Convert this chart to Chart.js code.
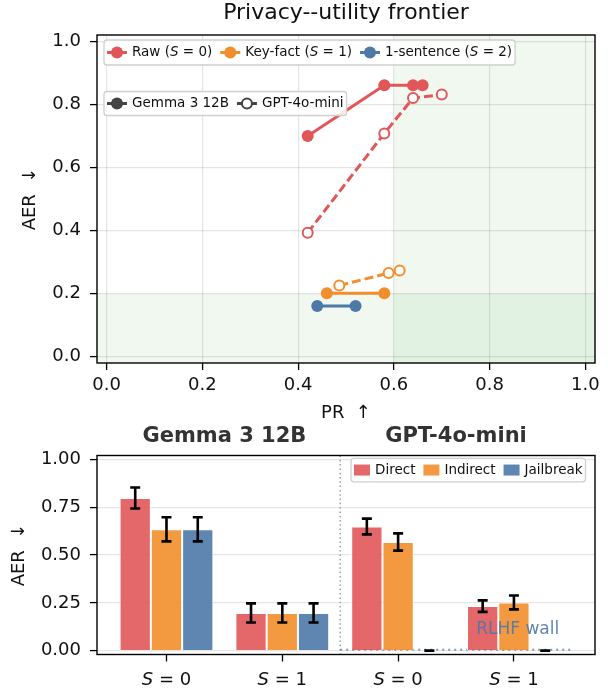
<!DOCTYPE html>
<html><head><meta charset="utf-8">
<script src="https://cdn.jsdelivr.net/npm/chart.js@4.4.1/dist/chart.umd.min.js"></script>
<style>
html,body{margin:0;padding:0;background:#fff;}
#wrap{position:relative;width:608px;height:694px;overflow:hidden;background:#fff;}
canvas{position:absolute;left:0;}
#c1{top:0;} #c2{top:400px;}
</style></head><body>
<div id="wrap"><canvas id="c1" width="608" height="430"></canvas><canvas id="c2" width="608" height="294"></canvas></div>
<script>
const FONT = "'DejaVu Sans', sans-serif";
// ---------- top chart data ----------
const topTitle = 'Privacy--utility frontier';
const xTicksTop = [0, 0.2, 0.4, 0.6, 0.8, 1.0];
const yTicksTop = [0, 0.2, 0.4, 0.6, 0.8, 1.0];
const prThreshold = 0.6;
const aerThreshold = 0.2;
const seriesNames = ['Raw', 'Key-fact', '1-sentence'];
const seriesS = [0, 1, 2];
const modelNames = ['Gemma 3 12B', 'GPT-4o-mini'];
const rawGemmaPR  = [0.42, 0.58, 0.64, 0.66];
const rawGemmaAER = [0.70, 0.861, 0.861, 0.861];
const rawGptPR    = [0.42, 0.58, 0.64, 0.70];
const rawGptAER   = [0.393, 0.708, 0.82, 0.831];
const keyGemmaPR  = [0.46, 0.58];
const keyGemmaAER = [0.201, 0.201];
const keyGptPR    = [0.486, 0.589, 0.612];
const keyGptAER   = [0.226, 0.265, 0.273];
const sentGemmaPR  = [0.44, 0.52];
const sentGemmaAER = [0.161, 0.161];
// ---------- bottom chart data ----------
const sTickLabels = [0, 1, 0, 1];
const yTicksBottom = [0, 0.25, 0.5, 0.75, 1.0];
const attackNames = ['Direct', 'Indirect', 'Jailbreak'];
const direct      = [0.798, 0.197, 0.649, 0.233];
const directErr   = [0.055, 0.050, 0.041, 0.030];
const indirect    = [0.634, 0.197, 0.568, 0.252];
const indirectErr = [0.063, 0.050, 0.045, 0.036];
const jailbreak   = [0.634, 0.197, 0.0, 0.0];
const jailbreakErr= [0.063, 0.050, 0.0, 0.0];
const wallLabel = 'RLHF wall';

const RED = '#e15759', ORANGE = '#f28e2b', BLUE = '#4e79a7', DARK = '#444444';
const seriesColors = [RED, ORANGE, BLUE];
const barColors = ['rgba(225,87,89,0.9)', 'rgba(242,142,43,0.9)', 'rgba(78,121,167,0.9)'];
const TXT = '#111';

function pts(xs, ys) { return xs.map((x, i) => ({x: x, y: ys[i]})); }
function lineDs(label, xs, ys, color, open) {
  return {
    label: label, data: pts(xs, ys), borderColor: color, backgroundColor: color,
    borderWidth: 3, borderDash: open ? [9, 4] : [],
    pointRadius: open ? 5 : 6, pointBorderWidth: open ? 2 : 0,
    pointBackgroundColor: open ? '#ffffff' : color, pointBorderColor: color,
    fill: false, tension: 0, showLine: true
  };
}

function drawRich(ctx, parts, x, y, size, align, color, weight) {
  const fonts = parts.map(p => (p[1] ? 'italic ' : '') + (weight || '') + ' ' + size + 'px ' + FONT);
  const widths = parts.map((p, i) => { ctx.font = fonts[i]; return ctx.measureText(p[0]).width; });
  const total = widths.reduce((a, b) => a + b, 0);
  let cx = align === 'center' ? x - total / 2 : x;
  ctx.textAlign = 'left'; ctx.textBaseline = 'middle'; ctx.fillStyle = color;
  parts.forEach((p, i) => { ctx.font = fonts[i]; ctx.fillText(p[0], cx, y); cx += widths[i]; });
  return total;
}
function measureRich(ctx, parts, size) {
  return parts.reduce((acc, p) => { ctx.font = (p[1] ? 'italic ' : '') + size + 'px ' + FONT; return acc + ctx.measureText(p[0]).width; }, 0);
}
function roundRect(ctx, x, y, w, h, r) {
  ctx.beginPath();
  ctx.moveTo(x + r, y); ctx.lineTo(x + w - r, y); ctx.quadraticCurveTo(x + w, y, x + w, y + r);
  ctx.lineTo(x + w, y + h - r); ctx.quadraticCurveTo(x + w, y + h, x + w - r, y + h);
  ctx.lineTo(x + r, y + h); ctx.quadraticCurveTo(x, y + h, x, y + h - r);
  ctx.lineTo(x, y + r); ctx.quadraticCurveTo(x, y, x + r, y); ctx.closePath();
}
function drawLegend(ctx, left, top, h, items, handleW, size) {
  const pad = 5, col = 8, inner = 3;
  let w = inner;
  items.forEach((it, i) => { w += handleW + pad + measureRich(ctx, it.parts, size) + (i < items.length - 1 ? col : 0); });
  w += 3;
  ctx.save();
  roundRect(ctx, left, top, w, h, 3);
  ctx.fillStyle = 'rgba(255,255,255,0.85)'; ctx.fill();
  ctx.strokeStyle = '#cfcfcf'; ctx.lineWidth = 1.3; ctx.stroke();
  const cy = top + h / 2;
  let x = left + inner;
  items.forEach(it => {
    it.handle(ctx, x, cy, handleW);
    x += handleW + pad;
    x += drawRich(ctx, it.parts, x, cy, size, 'left', TXT);
    x += col;
  });
  ctx.restore();
}
function lineHandle(color, open) {
  return (ctx, x, cy, w) => {
    ctx.save();
    ctx.strokeStyle = color; ctx.lineWidth = 3;
    ctx.beginPath(); ctx.moveTo(x, cy); ctx.lineTo(x + w, cy); ctx.stroke();
    ctx.beginPath(); ctx.arc(x + w / 2, cy, open ? 5 : 6, 0, Math.PI * 2);
    if (open) { ctx.fillStyle = '#fff'; ctx.fill(); ctx.lineWidth = 2; ctx.stroke(); }
    else { ctx.fillStyle = color; ctx.fill(); }
    ctx.restore();
  };
}
function patchHandle(color) {
  return (ctx, x, cy, w) => { ctx.fillStyle = color; ctx.fillRect(x, cy - 5.5, w, 11); };
}

// ---------- top chart ----------
const topPlugin = {
  id: 'topDecor',
  beforeDraw(chart) {
    const {ctx, chartArea: a, scales: {x, y}} = chart;
    ctx.save();
    ctx.fillStyle = 'rgba(44,160,44,0.07)';
    const xp = x.getPixelForValue(prThreshold);
    ctx.fillRect(xp, a.top, a.right - xp, a.bottom - a.top);
    const yp = y.getPixelForValue(aerThreshold);
    ctx.fillRect(a.left, yp, a.right - a.left, a.bottom - yp);
    ctx.restore();
  },
  afterDraw(chart) {
    const {ctx, chartArea: a} = chart;
    ctx.save();
    ctx.strokeStyle = '#000'; ctx.lineWidth = 1.4;
    ctx.strokeRect(a.left, a.top, a.right - a.left, a.bottom - a.top);
    const cx = (a.left + a.right) / 2;
    ctx.fillStyle = TXT; ctx.textAlign = 'center'; ctx.textBaseline = 'middle';
    ctx.font = '22px ' + FONT;
    ctx.fillText(topTitle, cx, 13);
    ctx.font = '18px ' + FONT;
    ctx.fillText('PR  \u2191', cx, 413);
    ctx.save(); ctx.translate(30, (a.top + a.bottom) / 2); ctx.rotate(-Math.PI / 2);
    ctx.fillText('AER  \u2193', 0, 0); ctx.restore();
    drawLegend(ctx, 104, 40, 25, seriesNames.map((n, i) => ({
      handle: lineHandle(seriesColors[i], false),
      parts: [[n + ' (', false], ['S', true], [' = ' + seriesS[i] + ')', false]]
    })), 20, 13.5);
    drawLegend(ctx, 104, 91.5, 24, modelNames.map((n, i) => ({
      handle: lineHandle(DARK, i === 1),
      parts: [[n, false]]
    })), 20, 13.5);
    ctx.restore();
  }
};

const tickFont = {family: FONT, size: 18};
new Chart(document.getElementById('c1'), {
  type: 'line',
  data: {
    datasets: [
      lineDs('Raw Gemma', rawGemmaPR, rawGemmaAER, RED, false),
      lineDs('Raw GPT', rawGptPR, rawGptAER, RED, true),
      lineDs('Key Gemma', keyGemmaPR, keyGemmaAER, ORANGE, false),
      lineDs('Key GPT', keyGptPR, keyGptAER, ORANGE, true),
      lineDs('Sent Gemma', sentGemmaPR, sentGemmaAER, BLUE, false)
    ]
  },
  options: {
    responsive: false, animation: false,
    layout: {padding: {top: 35, right: 13, left: 0, bottom: 0}},
    plugins: {legend: {display: false}, tooltip: {enabled: false}, title: {display: false}},
    scales: {
      x: {
        type: 'linear', min: -0.02, max: 1.02,
        afterBuildTicks: s => { s.ticks = xTicksTop.map(v => ({value: v})); },
        afterFit: s => { s.height = 67; },
        grid: {color: 'rgba(0,0,0,0.1)', lineWidth: 1.2, tickLength: 7, tickColor: '#000', tickWidth: 1.3},
        border: {display: false},
        ticks: {color: TXT, font: tickFont, padding: 5, maxRotation: 0, autoSkip: false, callback: v => Number(v).toFixed(1)}
      },
      y: {
        type: 'linear', min: -0.02, max: 1.02,
        afterBuildTicks: s => { s.ticks = yTicksTop.map(v => ({value: v})); },
        afterFit: s => { s.width = 97; },
        grid: {color: 'rgba(0,0,0,0.1)', lineWidth: 1.2, tickLength: 7, tickColor: '#000', tickWidth: 1.3},
        border: {display: false},
        ticks: {color: TXT, font: tickFont, padding: 9, autoSkip: false, callback: v => Number(v).toFixed(1)}
      }
    }
  },
  plugins: [topPlugin]
});

// ---------- bottom chart ----------
const errs = [directErr, indirectErr, jailbreakErr];
const bottomPlugin = {
  id: 'bottomDecor',
  beforeDatasetsDraw(chart) {
    const {ctx, chartArea: a, scales: {x, y}} = chart;
    ctx.save();
    const xs = x.getPixelForValue(1.5);
    ctx.strokeStyle = '#a0a0a0'; ctx.lineWidth = 1.5; ctx.setLineDash([1.5, 2.8]);
    ctx.beginPath(); ctx.moveTo(xs, a.top); ctx.lineTo(xs, a.bottom); ctx.stroke();
    ctx.strokeStyle = 'rgba(78,121,167,0.75)'; ctx.lineWidth = 2; ctx.setLineDash([2, 4]);
    const y0 = y.getPixelForValue(0) - 1;
    ctx.beginPath(); ctx.moveTo(xs, y0); ctx.lineTo(x.getPixelForValue(3.5), y0); ctx.stroke();
    ctx.restore();
  },
  afterDatasetsDraw(chart) {
    const {ctx, scales: {x, y}} = chart;
    ctx.save();
    ctx.strokeStyle = '#000'; ctx.lineWidth = 2.6; ctx.setLineDash([]);
    chart.data.datasets.forEach((ds, di) => {
      const meta = chart.getDatasetMeta(di);
      meta.data.forEach((bar, i) => {
        const v = ds.data[i].y, e = errs[di][i];
        const xp = bar.x, y1 = y.getPixelForValue(v + e), y2 = y.getPixelForValue(v - e);
        ctx.beginPath();
        ctx.moveTo(xp, y1); ctx.lineTo(xp, y2);
        ctx.moveTo(xp - 5, y1); ctx.lineTo(xp + 5, y1);
        ctx.moveTo(xp - 5, y2); ctx.lineTo(xp + 5, y2);
        ctx.stroke();
      });
    });
    ctx.restore();
  },
  afterDraw(chart) {
    const {ctx, chartArea: a, scales: {x, y}} = chart;
    ctx.save();
    ctx.strokeStyle = '#000'; ctx.lineWidth = 1.4;
    ctx.strokeRect(a.left, a.top, a.right - a.left, a.bottom - a.top);
    ctx.fillStyle = 'rgba(78,121,167,0.9)'; ctx.font = '17px ' + FONT;
    ctx.textAlign = 'left'; ctx.textBaseline = 'middle';
    ctx.fillText(wallLabel, x.getPixelForValue(2.674), y.getPixelForValue(0.11));
    ctx.fillStyle = '#333'; ctx.font = 'bold 21px ' + FONT; ctx.textAlign = 'center';
    ctx.fillText(modelNames[0], x.getPixelForValue(0.5), 37);
    ctx.fillText(modelNames[1], x.getPixelForValue(2.5), 37);
    sTickLabels.forEach((s, i) => {
      drawRich(ctx, [['S', true], [' = ' + s, false]], x.getPixelForValue(i), 280, 18, 'center', TXT);
    });
    ctx.fillStyle = TXT; ctx.font = '18px ' + FONT; ctx.textAlign = 'center'; ctx.textBaseline = 'middle';
    ctx.save(); ctx.translate(19, (a.top + a.bottom) / 2); ctx.rotate(-Math.PI / 2);
    ctx.fillText('AER  \u2193', 0, 0); ctx.restore();
    drawLegend(ctx, 351, 58.3, 23.5, attackNames.map((n, i) => ({
      handle: patchHandle(barColors[i]), parts: [[n, false]]
    })), 16, 13.5);
    ctx.restore();
  }
};

const barVals = [direct, indirect, jailbreak];
new Chart(document.getElementById('c2'), {
  type: 'bar',
  data: {
    datasets: attackNames.map((n, di) => ({
      label: n,
      data: sTickLabels.map((_, i) => ({x: i, y: barVals[di][i]})),
      backgroundColor: barColors[di], borderColor: '#ffffff', borderWidth: 1, borderSkipped: 'start',
      categoryPercentage: 0.81, barPercentage: 1.0
    }))
  },
  options: {
    responsive: false, animation: false,
    layout: {padding: {top: 55.5, right: 13, left: 0, bottom: 0}},
    plugins: {legend: {display: false}, tooltip: {enabled: false}, title: {display: false}},
    scales: {
      x: {
        type: 'linear', min: -0.6, max: 3.7, offset: false,
        afterBuildTicks: s => { s.ticks = sTickLabels.map((_, i) => ({value: i})); },
        afterFit: s => { s.height = 39.5; },
        grid: {display: true, offset: false, drawOnChartArea: false, drawTicks: true, tickLength: 7, tickColor: '#000', tickWidth: 1.3},
        border: {display: false},
        ticks: {display: false}
      },
      y: {
        type: 'linear', min: -0.02, max: 1.02,
        afterBuildTicks: s => { s.ticks = yTicksBottom.map(v => ({value: v})); },
        afterFit: s => { s.width = 97; },
        grid: {color: 'rgba(0,0,0,0.1)', lineWidth: 1.2, tickLength: 7, tickColor: '#000', tickWidth: 1.3},
        border: {display: false},
        ticks: {color: TXT, font: tickFont, padding: 9, autoSkip: false, callback: v => Number(v).toFixed(2)}
      }
    }
  },
  plugins: [bottomPlugin]
});
</script>
</body></html>
